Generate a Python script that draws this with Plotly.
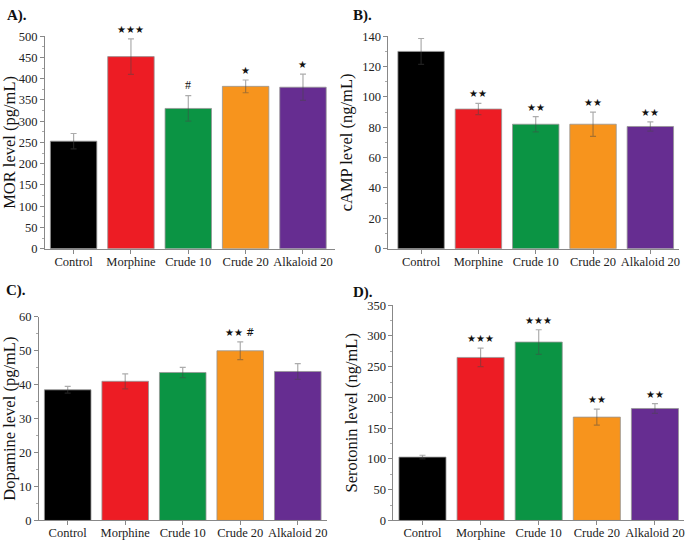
import plotly.graph_objects as go

W, H = 685, 545

groups = ["Control", "Morphine", "Crude 10", "Crude 20", "Alkaloid 20"]
colors = ["#000000", "#ED1C24", "#0B9444", "#F7941D", "#662D91"]

mor_vals = [253, 452, 330, 382, 380]
mor_err = [18, 42, 30, 15, 31]
mor_sig = ["", "★★★", "#", "★", "★"]

camp_vals = [130, 92, 82, 82, 80.5]
camp_err = [8.5, 3.7, 5, 8, 3]
camp_sig = ["", "★★", "★★", "★★", "★★"]

dopa_vals = [38.5, 41, 43.6, 50, 43.9]
dopa_err = [1.0, 2.2, 1.5, 2.6, 2.3]
dopa_sig = ["", "", "", "★★ #", ""]

sero_vals = [103, 265, 290, 168, 182]
sero_err = [3, 15, 20, 13, 8]
sero_sig = ["", "★★★", "★★★", "★★", "★★"]

panels = [
    dict(vals=mor_vals, err=mor_err, sig=mor_sig, title="MOR level (pg/mL)", rng=[0, 500], dt=50,
         px=(45, 335), py=(30, 248), xr=[-0.5, 4.55], label="A).", lab=(5, 9)),
    dict(vals=camp_vals, err=camp_err, sig=camp_sig, title="cAMP level (ng/mL)", rng=[0, 140], dt=20,
         px=(389, 680), py=(30, 248), xr=[-0.57, 4.5], label="B).", lab=(352, 9)),
    dict(vals=dopa_vals, err=dopa_err, sig=dopa_sig, title="Dopamine level (pg/mL)", rng=[0, 60], dt=10,
         px=(39, 327), py=(318, 527), xr=[-0.5, 4.5], label="C).", lab=(4, 291)),
    dict(vals=sero_vals, err=sero_err, sig=sero_sig, title="Serotonin level (ng/mL)", rng=[0, 350], dt=50,
         px=(394, 685), py=(306, 527), xr=[-0.5, 4.5], label="D).", lab=(352, 293)),
]

FONT = "Liberation Serif"
fig = go.Figure()
layout = dict(width=W, height=H, margin=dict(l=0, r=0, t=0, b=0),
              plot_bgcolor="white", paper_bgcolor="white", showlegend=False,
              font=dict(family=FONT, color="#222", size=12))
annotations = []

for i, p in enumerate(panels):
    n = "" if i == 0 else str(i + 1)
    xa, ya = "x" + n, "y" + n
    fig.add_trace(go.Bar(
        x=groups, y=p["vals"], xaxis=xa, yaxis=ya,
        marker=dict(color=colors, line=dict(color="rgba(150,150,150,0.8)", width=1)),
        width=0.81,
        error_y=dict(type="data", array=p["err"], visible=True,
                     color="rgba(70,70,70,0.45)", thickness=1.2, width=3),
        hoverinfo="skip"))
    layout["xaxis" + n] = dict(
        domain=[p["px"][0] / W, p["px"][1] / W], anchor=ya, range=p["xr"],
        type="category", showline=True, linecolor="#888", linewidth=1,
        ticks="outside", ticklen=4, tickcolor="#888", ticklabelstandoff=-3,
        tickfont=dict(family=FONT, size=12.5, color="#222"), showgrid=False, zeroline=False)
    layout["yaxis" + n] = dict(
        domain=[1 - p["py"][1] / H, 1 - p["py"][0] / H], anchor=xa, range=p["rng"],
        dtick=p["dt"], showline=True, linecolor="#888", linewidth=1,
        ticks="outside", ticklen=4, tickcolor="#888",
        minor=dict(ticks="outside", ticklen=2, tickcolor="#aaa", dtick=p["dt"] / 2),
        tickfont=dict(family=FONT, size=12.5, color="#222"), showgrid=False, zeroline=False,
        title=dict(text=p["title"], font=dict(family=FONT, size=16.5, color="#111"), standoff=5))
    for g, v, e, s in zip(groups, p["vals"], p["err"], p["sig"]):
        if s:
            annotations.append(dict(
                x=g, y=v + e, xref=xa, yref=ya, text=s, showarrow=False,
                yanchor="bottom", yshift=2,
                font=dict(family="DejaVu Sans" if "★" in s else FONT,
                          size=10 if "★" in s else 12, color="#111")))
    annotations.append(dict(
        x=p["lab"][0] / W, y=1 - p["lab"][1] / H, xref="paper", yref="paper",
        xanchor="left", yanchor="middle", showarrow=False, text="<b>" + p["label"] + "</b>",
        font=dict(family=FONT, size=15, color="#111")))

layout["annotations"] = annotations
fig.update_layout(**layout)
fig.write_html("out.html")
